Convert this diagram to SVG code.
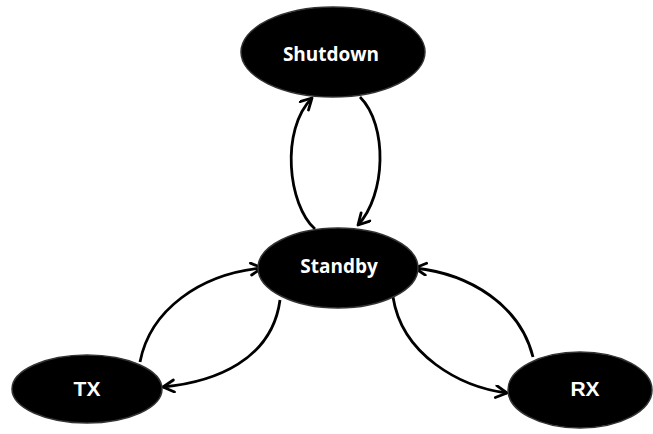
<svg xmlns="http://www.w3.org/2000/svg" width="653" height="434" viewBox="0 0 653 434">
  <defs>
    <style>
      .state { fill: #000; stroke: #333; stroke-width: 1.5; }
      .label { fill: #fff; font-family: "Open Sans", "Liberation Sans", sans-serif; font-weight: 700; font-size: 19px; text-anchor: middle; }
      .label-short { fill: #fff; font-family: "Liberation Sans", Arial, sans-serif; font-weight: 700; font-size: 21px; text-anchor: middle; }
      .edge { fill: none; stroke: #000; stroke-width: 2.8; marker-end: url(#arrow); }
    </style>
    <marker id="arrow" markerUnits="userSpaceOnUse" markerWidth="16" markerHeight="16" refX="13" refY="7" orient="auto">
      <path d="M2,1 L13,7 L2,13" fill="none" stroke="#000" stroke-width="2.8" stroke-linecap="round" stroke-linejoin="round"/>
    </marker>
  </defs>

  <rect width="653" height="434" fill="#fff"/>

  <!-- transitions -->
  <g id="connectors">
    <path class="edge" d="M315,229 C288,205 280,130 312,98"/>
    <path class="edge" d="M360,97 C388,125 386,195 358,225"/>
    <path class="edge" d="M140,362 C150,310 200,274 262,268"/>
    <path class="edge" d="M280,300 C272,360 215,382 163,387"/>
    <path class="edge" d="M533,357 C520,305 470,274 415,268"/>
    <path class="edge" d="M393,297 C402,355 460,387 507,393"/>
  </g>

  <g id="shutdown">
    <ellipse class="state" cx="333" cy="52" rx="92" ry="45"/>
    <text class="label" x="331" y="61">Shutdown</text>
  </g>

  <g id="standby">
    <ellipse class="state" cx="338" cy="268" rx="80" ry="40"/>
    <text class="label" x="339" y="273">Standby</text>
  </g>

  <g id="tx">
    <ellipse class="state" cx="87" cy="389" rx="75" ry="34"/>
    <text class="label-short" x="87" y="396">TX</text>
  </g>

  <g id="rx">
    <ellipse class="state" cx="580" cy="390" rx="72" ry="38"/>
    <text class="label-short" x="585" y="396">RX</text>
  </g>
</svg>
